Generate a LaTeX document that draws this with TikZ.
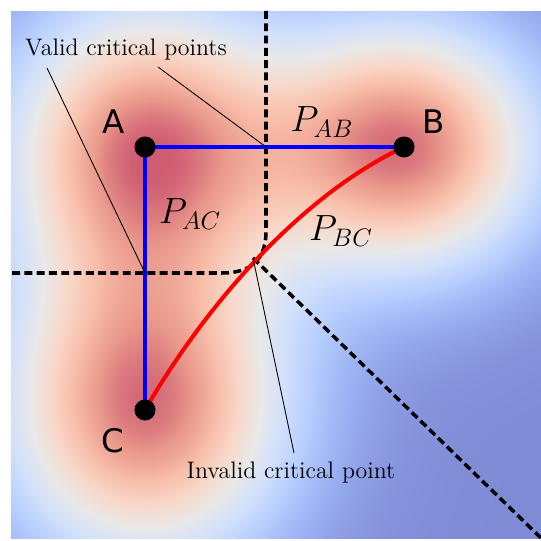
\documentclass[tikz,border=0pt]{standalone}
\usepackage{fontspec}
\newfontfamily\lblfont{DejaVu Sans}
\usepackage{pgfplots}
\pgfplotsset{compat=1.18}
\pgfplotsset{colormap={coolfade}{rgb255=(128,139,214) rgb255=(153,174,241)
  rgb255=(181,204,254) rgb255=(209,224,251) rgb255=(233,233,233)
  rgb255=(248,216,201) rgb255=(248,189,169) rgb255=(233,152,139) rgb255=(206,92,114)}}
\tikzset{
  dot/.style={circle,fill=black,inner sep=0pt,minimum size=12pt},
  ptname/.style={font=\lblfont\fontsize{18.5}{20}\selectfont},
  pathname/.style={font=\fontsize{21}{24}\selectfont},
  calltext/.style={font=\fontsize{13.6}{15}\selectfont},
  ridge/.style={line width=2pt,dash pattern=on 4.5pt off 2.5pt},
  pointer/.style={line width=0.5pt},
}
\begin{document}
\begin{tikzpicture}[x=0.02cm,y=0.02cm]
  \useasboundingbox (0,0) rectangle (541,541);
  \begin{axis}[hide axis,scale only axis,width=10.82cm,height=10.82cm,
      xmin=0,xmax=541,ymin=0,ymax=541,view={0}{90},
      colormap name=coolfade,point meta min=0,point meta max=1.07]
    \addplot3[surf,shader=interp,samples=50,domain=11:541,y domain=2:530]
      {exp(-((x-145)^2/19208+(y-394)^2/20808))
        +exp(-((x-404)^2/18432+(y-394)^2/15488))
        +exp(-((x-145)^2/20000+(y-131)^2/22472))};
  \end{axis}
  % points and crossings
  \coordinate (A) at (145,394);
  \coordinate (B) at (404,394);
  \coordinate (C) at (145,131);
  \coordinate (J) at (253,283);
  \coordinate (vAC) at (145,268);
  \coordinate (vAB) at (266,394);
  % ridges
  \draw[ridge] (266,530) -- (266,310) .. controls (266,285) and (255,268) .. (222,268) -- (11,268);
  \draw[ridge] (J) -- (541,3);
  % paths
  \draw[blue,line width=2.3pt] (B) -- (A) -- (C);
  \draw[red,line width=2.3pt] (C) .. controls (205,235) and (300,345) .. (B);
  \node[dot] (dA) at (A) {};
  \node[dot] (dB) at (B) {};
  \node[dot] (dC) at (C) {};
  \node[ptname] (lA) at (114,419) {A};
  \node[ptname] (lB) at (434,419) {B};
  \node[ptname] (lC) at (113,100) {C};
  \node[pathname] (pAB) at (322,419) {$P_{AB}$};
  \node[pathname] (pAC) at (190,327) {$P_{AC}$};
  \node[pathname] (pBC) at (341,310) {$P_{BC}$};
  % callouts
  \node[calltext] (valid) at (126,491) {Valid critical points};
  \node[calltext] (invalid) at (291,68) {Invalid critical point};
  \coordinate (v1) at (47,473);
  \coordinate (v2) at (158,474);
  \coordinate (i1) at (294,88);
  \draw[pointer] (v1) -- (vAC);
  \draw[pointer] (v2) -- (vAB);
  \draw[pointer] (J) -- (i1);
\end{tikzpicture}
\end{document}
